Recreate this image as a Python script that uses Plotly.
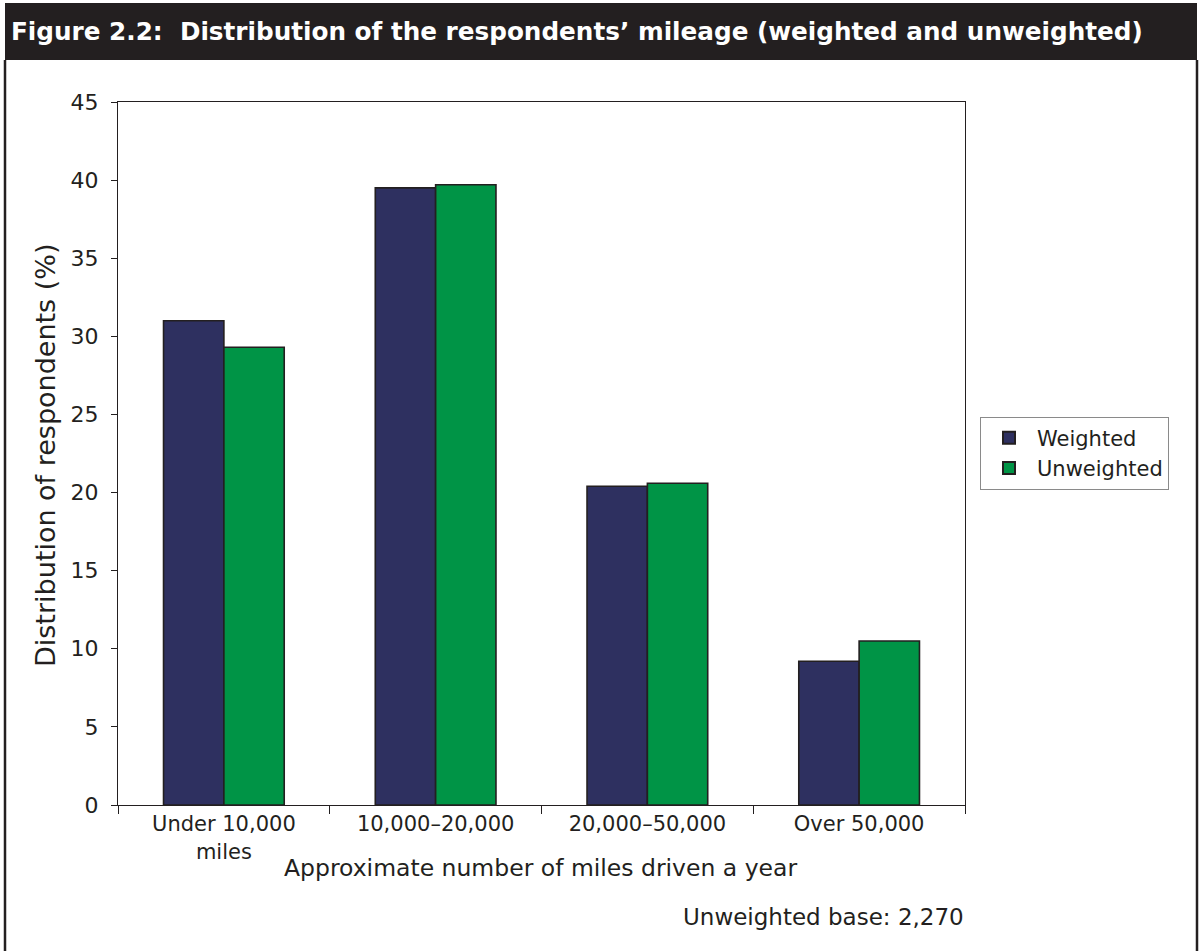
import plotly.graph_objects as go

# Mileage bands (x categories) and the share of respondents in each (%)
categories = ["Under 10,000<br>miles", "10,000–20,000", "20,000–50,000", "Over 50,000"]
weighted = [31.0, 39.5, 20.4, 9.2]
unweighted = [29.3, 39.7, 20.6, 10.5]
y_ticks = [0, 5, 10, 15, 20, 25, 30, 35, 40, 45]

TITLE = "Figure 2.2:\u00a0 Distribution of the respondents’ mileage (weighted and unweighted)"
X_TITLE = "Approximate number of miles driven a year"
Y_TITLE = "Distribution of respondents (%)"
FOOTNOTE = "Unweighted base: 2,270"

W, H = 1202, 951
L, R, T, B = 118, 965, 102, 805  # plot area in pixels
INK = "#231f20"
NAVY = "#2e3060"
GREEN = "#009446"
FONT = "DejaVu Sans, Liberation Sans, Arial, sans-serif"


def px(x):
    return (x - L) / (R - L)


def py(y):
    return (B - y) / (B - T)


fig = go.Figure()
fig.add_bar(name="Weighted", x=categories, y=weighted,
            marker=dict(color=NAVY, line=dict(color=INK, width=1.6)))
fig.add_bar(name="Unweighted", x=categories, y=unweighted,
            marker=dict(color=GREEN, line=dict(color=INK, width=1.6)))

fig.update_layout(
    width=W, height=H,
    margin=dict(l=L, r=W - R, t=T, b=H - B, pad=0),
    paper_bgcolor="white", plot_bgcolor="white",
    font=dict(family=FONT, size=21, color=INK),
    barmode="group", bargap=0.43, bargroupgap=0,
    showlegend=True,
    legend=dict(x=px(980), y=py(453), xanchor="left", yanchor="middle",
                bgcolor="white", bordercolor="#8a8a8a", borderwidth=1,
                font=dict(size=21, color=INK), itemsizing="constant",
                itemwidth=46, tracegroupgap=0),
)

fig.update_xaxes(
    type="category", showline=True, linecolor=INK, linewidth=1.2, mirror=True,
    ticks="outside", tickson="boundaries", ticklen=8, tickcolor=INK,
    tickfont=dict(size=21, color=INK), showgrid=False, zeroline=False,
)
fig.update_yaxes(
    range=[0, 45], tickvals=y_ticks, ticktext=[str(v) for v in y_ticks],
    showline=True, linecolor=INK, linewidth=1.2, mirror=True,
    ticks="outside", ticklen=6, tickcolor=INK, ticklabelstandoff=8,
    tickfont=dict(size=22, color=INK), showgrid=False, zeroline=False,
)

# Title band and outer frame
fig.add_shape(type="rect", xref="paper", yref="paper",
              x0=px(5), x1=px(1197), y0=py(60), y1=py(3),
              fillcolor=INK, line=dict(width=0), layer="below")
fig.add_shape(type="line", xref="paper", yref="paper",
              x0=px(5), x1=px(5), y0=py(60), y1=py(952),
              line=dict(color=INK, width=2.5))
fig.add_shape(type="line", xref="paper", yref="paper",
              x0=px(1197), x1=px(1197), y0=py(60), y1=py(952),
              line=dict(color=INK, width=2.5))

fig.add_annotation(text="<b>" + TITLE + "</b>", xref="paper", yref="paper",
                   x=px(9), y=py(32), xanchor="left", yanchor="middle",
                   showarrow=False, font=dict(size=24.7, color="white"))
fig.add_annotation(text=Y_TITLE, xref="paper", yref="paper",
                   x=px(45), y=py(456), xanchor="center", yanchor="middle",
                   textangle=-90, showarrow=False, font=dict(size=27, color=INK))
fig.add_annotation(text=X_TITLE, xref="paper", yref="paper",
                   x=px(540), y=py(868), xanchor="center", yanchor="middle",
                   showarrow=False, font=dict(size=23.5, color=INK))
fig.add_annotation(text=FOOTNOTE, xref="paper", yref="paper",
                   x=px(966), y=py(917), xanchor="right", yanchor="middle",
                   showarrow=False, font=dict(size=23, color=INK))

fig.write_html("out.html")
